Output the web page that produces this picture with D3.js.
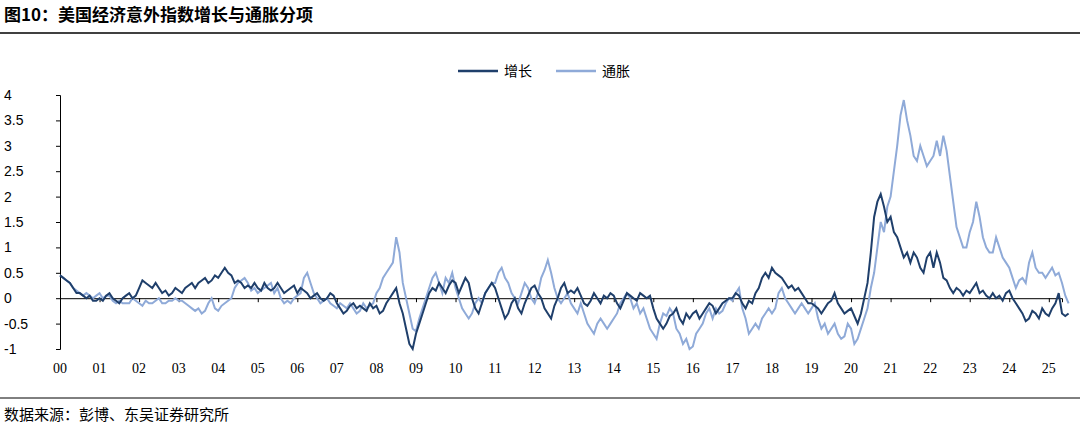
<!DOCTYPE html>
<html><head><meta charset="utf-8">
<script src="https://cdn.jsdelivr.net/npm/d3@7"></script>
<style>body{margin:0;background:#fff;font-family:"Noto Sans CJK SC","Liberation Serif",serif}</style>
</head><body><div id="chart-area"></div>
<script>
const YEARS = d3.range(2000, 2026)
const YTICKS = [-1, -0.5, 0, 0.5, 1, 1.5, 2, 2.5, 3, 3.5, 4]
const SERIES_NAMES = ["增长", "通胀"]

// monthly values, Jan 2000 onwards
const growth = [
0.45,0.4,0.35,0.3,0.2,0.1,0.1,0.05,0,0.05,-0.05,-0.05,
0,-0.05,0.05,0.1,0.0,-0.05,-0.1,0,0.05,0.1,0.0,0.05,
0.2,0.35,0.3,0.25,0.2,0.3,0.2,0.1,0.15,0.05,0.1,0.2,
0.15,0.1,0.2,0.25,0.3,0.2,0.3,0.35,0.4,0.3,0.35,0.45,
0.4,0.5,0.6,0.5,0.45,0.3,0.35,0.3,0.2,0.25,0.2,0.3,
0.2,0.15,0.3,0.2,0.15,0.2,0.3,0.2,0.1,0.15,0.2,0.25,
0.1,0.2,0.15,0.1,0.0,0.05,0.1,0.0,-0.05,0.0,0.1,0.05,
-0.1,-0.2,-0.3,-0.25,-0.15,-0.1,-0.2,-0.15,-0.2,-0.25,-0.1,-0.2,
-0.15,-0.3,-0.25,-0.1,0.0,0.1,0.2,-0.1,-0.3,-0.6,-0.9,-1.0,
-0.7,-0.5,-0.3,-0.1,0.1,0.2,0.15,0.3,0.2,0.1,0.25,0.35,
0.3,0.1,0.25,0.4,0.3,0.0,-0.2,-0.3,-0.1,0.1,0.2,0.3,
0.2,0.0,-0.2,-0.4,-0.3,-0.1,0.0,-0.2,-0.3,-0.1,0.05,0.2,
0.25,0.1,0.0,-0.2,-0.3,-0.4,-0.15,0.0,0.2,0.3,0.1,0.15,
0.1,0.2,0.05,-0.1,-0.15,-0.05,0.1,0.0,-0.1,0.05,0.0,0.1,
0.05,-0.1,-0.2,-0.05,0.1,0.05,0.0,-0.05,0.1,0.05,0.0,0.05,
-0.2,-0.4,-0.5,-0.6,-0.5,-0.35,-0.3,-0.2,-0.4,-0.5,-0.3,-0.4,
-0.3,-0.25,-0.4,-0.3,-0.2,-0.1,-0.15,-0.3,-0.2,-0.1,-0.05,0.0,
0.0,0.1,0.05,-0.1,-0.2,-0.05,-0.1,0.1,0.2,0.4,0.5,0.4,
0.6,0.5,0.45,0.4,0.3,0.2,0.25,0.15,0.2,0.1,0.0,-0.1,
-0.1,-0.15,-0.2,-0.3,-0.2,-0.1,-0.05,0.1,-0.1,-0.2,-0.3,-0.25,
-0.2,-0.35,-0.5,-0.3,0.0,0.3,0.9,1.6,1.9,2.05,1.8,1.5,
1.6,1.3,1.2,1.0,0.8,0.9,0.7,0.9,0.8,0.6,0.5,0.8,
0.9,0.6,0.9,0.7,0.4,0.35,0.2,0.1,0.2,0.15,0.05,0.15,
0.1,0.2,0.3,0.1,0.15,0.05,0.0,0.1,0.0,0.05,-0.05,0.1,
0.15,0.0,-0.1,-0.2,-0.3,-0.45,-0.4,-0.25,-0.3,-0.4,-0.2,-0.3,
-0.35,-0.2,-0.1,0.1,-0.3,-0.35,-0.3]

const inflation = [
0.45,0.4,0.35,0.3,0.2,0.15,0.1,0.05,0.1,0.05,0.0,0.05,
0.1,0.0,0.05,0.05,-0.05,-0.1,-0.05,-0.1,-0.1,-0.1,0.0,-0.05,
-0.1,-0.15,-0.05,-0.1,-0.1,-0.05,0.0,-0.1,-0.1,-0.05,-0.05,0.0,
-0.05,-0.05,-0.1,-0.15,-0.2,-0.25,-0.2,-0.3,-0.25,-0.1,0.0,-0.2,
-0.25,-0.15,-0.1,-0.05,0.0,0.2,0.3,0.35,0.4,0.3,0.15,0.2,
0.1,0.15,0.2,0.25,0.3,0.1,0.2,0.0,-0.1,-0.05,-0.1,0.0,
0.05,0.1,0.4,0.5,0.3,0.1,0.0,-0.1,-0.05,0.0,-0.1,-0.15,
-0.2,-0.1,-0.15,-0.2,-0.1,-0.2,-0.3,-0.25,-0.1,-0.2,-0.15,-0.1,
0.1,0.2,0.4,0.5,0.6,0.7,1.2,0.9,0.3,0.0,-0.3,-0.6,
-0.65,-0.4,-0.2,0.0,0.2,0.4,0.5,0.3,0.1,0.4,0.3,0.5,
0.2,0.0,-0.2,-0.3,-0.4,-0.3,-0.1,0.0,-0.1,0.1,0.2,0.3,
0.3,0.5,0.6,0.4,0.3,0.1,0.0,-0.1,0.1,0.3,0.2,0.0,
-0.1,0.1,0.4,0.55,0.75,0.5,0.2,0.0,-0.1,0.0,0.1,-0.1,
-0.2,-0.3,-0.1,-0.3,-0.5,-0.6,-0.7,-0.5,-0.4,-0.5,-0.6,-0.5,
-0.4,-0.3,-0.1,0.0,0.1,0.0,-0.2,-0.1,-0.3,-0.2,-0.4,-0.6,
-0.7,-0.8,-0.5,-0.3,-0.35,-0.2,-0.3,-0.6,-0.7,-0.9,-0.8,-1.0,
-0.95,-0.7,-0.6,-0.5,-0.3,-0.2,-0.4,-0.2,-0.3,-0.25,-0.1,0.0,
-0.05,0.1,0.2,-0.2,-0.4,-0.7,-0.6,-0.5,-0.6,-0.4,-0.3,-0.2,
-0.3,-0.2,0.1,0.2,0.0,-0.1,-0.2,-0.3,-0.2,-0.1,-0.2,-0.3,
-0.2,-0.1,-0.4,-0.6,-0.5,-0.7,-0.6,-0.5,-0.7,-0.8,-0.75,-0.5,
-0.6,-0.9,-0.8,-0.6,-0.4,-0.2,0.2,0.5,1.0,1.5,1.3,1.8,
2.0,2.5,3.0,3.6,3.9,3.5,3.2,2.8,2.7,3.0,2.8,2.6,
2.7,2.8,3.1,2.8,3.2,2.9,2.4,1.9,1.4,1.2,1.0,1.0,
1.3,1.5,1.9,1.6,1.2,1.0,0.9,0.9,1.2,1.0,0.8,0.7,
0.6,0.4,0.2,0.35,0.4,0.3,0.7,0.9,0.6,0.5,0.5,0.4,
0.5,0.6,0.45,0.5,0.3,0.05,-0.1]

const COLORS = ["#1f3f6b", "#8faad8"]
const W = 1080, H = 429

const svg = d3.select("#chart-area").append("svg")
    .attr("width", W).attr("height", H)
    .style("font-family", "'Liberation Serif', 'Noto Sans CJK SC', serif")

// title + rules
svg.append("text").attr("x", 4).attr("y", 21)
    .attr("font-size", "17px").attr("font-weight", "bold")
    .attr("font-family", "'Noto Sans CJK SC', serif")
    .text("图10：美国经济意外指数增长与通胀分项")
svg.append("line").attr("x1", 0).attr("x2", W).attr("y1", 33).attr("y2", 33)
    .attr("stroke", "#000").attr("stroke-width", 1.5)
svg.append("line").attr("x1", 0).attr("x2", W).attr("y1", 398).attr("y2", 398)
    .attr("stroke", "#000").attr("stroke-width", 1)
svg.append("text").attr("x", 4).attr("y", 420)
    .attr("font-size", "15px").attr("font-family", "'Noto Sans CJK SC', serif")
    .text("数据来源：彭博、东吴证券研究所")

const x = d3.scaleLinear().domain([2000, 2025 + 4 / 12]).range([60, 1062])
const y = d3.scaleLinear().domain([-1, 4]).range([349, 95])

// y axis
const yAxis = svg.append("g").attr("transform", "translate(60,0)")
    .call(d3.axisLeft(y).tickValues(YTICKS).tickSize(4).tickFormat(d => d))
yAxis.selectAll("text").attr("font-size", "14px").attr("fill", "#000")
    .attr("text-anchor", "start").attr("x", -56)
yAxis.select(".domain").attr("stroke", "#000")

// x axis at zero
const xAxis = svg.append("g").attr("transform", `translate(0,${y(0)})`)
    .call(d3.axisBottom(x).tickValues(YEARS).tickSize(4).tickFormat(() => ""))
xAxis.select(".domain").attr("stroke", "#000")
svg.selectAll(".xlab").data(YEARS).enter().append("text")
    .attr("x", d => x(d)).attr("y", 373)
    .attr("text-anchor", "middle").attr("font-size", "14px")
    .text(d => String(d % 100).padStart(2, "0"))

const line = d3.line().x((d, i) => x(2000 + i / 12)).y(d => y(d))
;[inflation, growth].forEach((s, k) => {
    svg.append("path").datum(s).attr("d", line).attr("fill", "none")
        .attr("stroke", COLORS[1 - k]).attr("stroke-width", 2)
})

// legend
const lg = svg.append("g").attr("transform", "translate(458,71)")
SERIES_NAMES.forEach((n, i) => {
    const gg = lg.append("g").attr("transform", `translate(${i * 98},0)`)
    gg.append("line").attr("x1", 0).attr("x2", 40).attr("stroke", COLORS[i]).attr("stroke-width", 2.5)
    gg.append("text").attr("x", 46).attr("y", 5).attr("font-size", "14px")
        .attr("font-family", "'Noto Sans CJK SC', serif").text(n)
})
</script></body></html>
